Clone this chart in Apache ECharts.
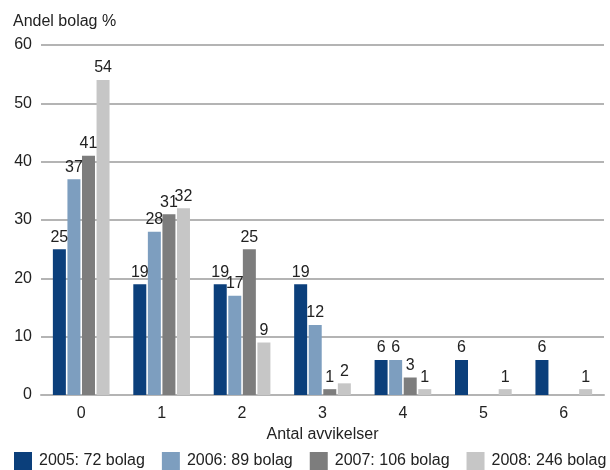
<!DOCTYPE html>
<html>
<head>
<meta charset="utf-8">
<script src="https://cdn.jsdelivr.net/npm/echarts@6/dist/echarts.min.js"></script>
<style>
  html, body { margin: 0; padding: 0; background: #fff; }
  #chart { width: 610px; height: 470px; }
</style>
</head>
<body>
<div id="chart"></div>
<script>
// avvikelser per bolag, andel i %
const categories = ['0', '1', '2', '3', '4', '5', '6']
const seriesNames = ['2005: 72 bolag', '2006: 89 bolag', '2007: 106 bolag', '2008: 246 bolag']
const values2005 = [25, 19, 19, 19, 6, 6, 6]
const values2006 = [37, 28, 17, 12, 6, null, null]
const values2007 = [41, 31, 25, 1, 3, null, null]
const values2008 = [54, 32, 9, 2, 1, 1, 1]
const colors = ['#0b3f7b', '#7d9ebf', '#7d7d7d', '#c6c6c6']

const allValues = [values2005, values2006, values2007, values2008]
const font = 'Liberation Sans, Arial, sans-serif'

const chart = echarts.init(document.getElementById('chart'))

chart.setOption({
  animation: false,
  textStyle: { fontFamily: font },
  color: colors,
  title: {
    text: 'Andel bolag %',
    left: 8,
    top: 9,
    textStyle: { fontSize: 16, fontWeight: 'normal', color: '#222', fontFamily: font }
  },
  grid: { left: 41, right: 6, top: 45, bottom: 75 },
  legend: {
    data: seriesNames,
    left: 14,
    right: 0,
    top: 452,
    padding: 0,
    itemWidth: 18,
    itemHeight: 18,
    itemGap: 17,
    icon: 'rect',
    textStyle: { fontSize: 16, color: '#222', fontFamily: font, padding: [0, 0, 0, 2] }
  },
  xAxis: {
    type: 'category',
    data: categories,
    name: 'Antal avvikelser',
    nameLocation: 'middle',
    nameGap: 30,
    nameTextStyle: { fontSize: 16, color: '#222' },
    axisLine: { lineStyle: { color: '#b4b4b4', width: 2 } },
    axisTick: { show: false },
    axisLabel: { fontSize: 16, color: '#222', margin: 11 }
  },
  yAxis: {
    type: 'value',
    min: 0,
    max: 60,
    interval: 10,
    axisLine: { show: false },
    axisTick: { show: false },
    axisLabel: { fontSize: 16, color: '#222', margin: 9 },
    splitLine: { lineStyle: { color: '#b4b4b4', width: 2 } }
  },
  series: seriesNames.map((name, i) => ({
    name: name,
    type: 'bar',
    data: allValues[i],
    barWidth: 13,
    barGap: '12%',
    label: {
      show: true,
      position: 'top',
      distance: 4,
      fontSize: 16,
      color: '#222'
    }
  }))
})
</script>
</body>
</html>
